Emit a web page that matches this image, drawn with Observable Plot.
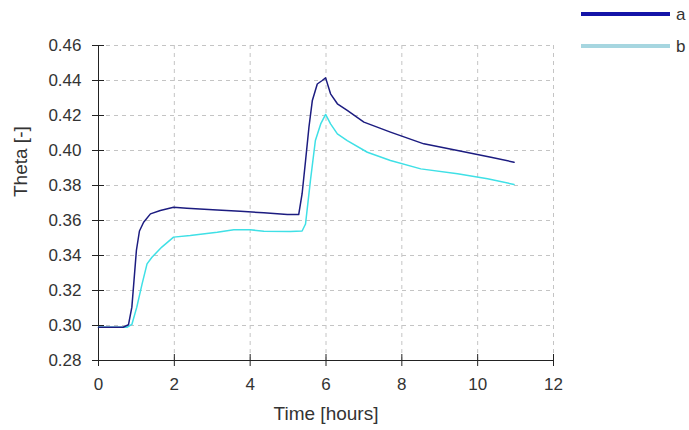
<!DOCTYPE html>
<html>
<head>
<meta charset="utf-8">
<script src="https://cdn.jsdelivr.net/npm/d3@7"></script>
<script src="https://cdn.jsdelivr.net/npm/@observablehq/plot@0.6"></script>
<style>
  body { margin: 0; background: #fff; }
  #wrap { position: relative; width: 689px; height: 430px; font-family: "Liberation Sans", Arial, sans-serif; }
  #legend { position: absolute; left: 0; top: 0; width: 689px; height: 60px; pointer-events: none; }
</style>
</head>
<body>
<div id="wrap"></div>
<script>
// Series a
const timeA = [0, 0.65, 0.79, 0.88, 0.93, 1.0, 1.08, 1.19, 1.37, 1.63, 1.98, 2.33, 3.13, 3.74, 4.36, 4.98, 5.28, 5.37, 5.46, 5.55, 5.64, 5.77, 5.90, 5.99, 6.12, 6.30, 6.56, 7.0, 7.70, 8.58, 9.47, 10.35, 10.96];
const thetaA = [0.299, 0.299, 0.3004, 0.3105, 0.324, 0.343, 0.354, 0.359, 0.3638, 0.3657, 0.3676, 0.367, 0.366, 0.3653, 0.3644, 0.3634, 0.3634, 0.3753, 0.394, 0.4133, 0.4286, 0.438, 0.44, 0.4415, 0.4324, 0.4267, 0.4229, 0.4162, 0.4105, 0.4038, 0.40, 0.3962, 0.3933];
// Series b
const timeB = [0, 0.75, 0.88, 1.01, 1.15, 1.28, 1.41, 1.67, 1.98, 2.42, 3.13, 3.57, 4.0, 4.36, 5.06, 5.37, 5.46, 5.59, 5.72, 5.86, 5.99, 6.12, 6.30, 6.56, 7.09, 7.70, 8.5, 9.47, 10.26, 10.96];
const thetaB = [0.299, 0.299, 0.3006, 0.3105, 0.3238, 0.3352, 0.339, 0.3448, 0.3505, 0.3514, 0.3533, 0.3547, 0.3547, 0.3539, 0.3537, 0.354, 0.358, 0.3829, 0.4057, 0.4152, 0.4206, 0.4152, 0.4095, 0.4057, 0.399, 0.3943, 0.3895, 0.3867, 0.3838, 0.3806];

const seriesNames = ["a", "b"];
const xTicks = [0, 2, 4, 6, 8, 10, 12];
const yTicks = [0.28, 0.30, 0.32, 0.34, 0.36, 0.38, 0.40, 0.42, 0.44, 0.46];
const xTitle = "Time [hours]";
const yTitle = "Theta [-]";

const colorA = "#1c1c80";
const colorB = "#3fe0e6";
const legendColors = ["#1414a8", "#a6d6e0"];

const rowsA = timeA.map((t, i) => ({t, v: thetaA[i]}));
const rowsB = timeB.map((t, i) => ({t, v: thetaB[i]}));

const font = "Liberation Sans, Arial, sans-serif";

const chart = Plot.plot({
  width: 689,
  height: 430,
  marginLeft: 98,
  marginRight: 136,
  marginTop: 45,
  marginBottom: 70,
  style: {fontFamily: font, fontSize: "17px", color: "#333", background: "transparent"},
  x: {domain: [0, 12]},
  y: {domain: [0.28, 0.46]},
  marks: [
    // grid
    Plot.gridX(xTicks.slice(1), {stroke: "#c4c4c4", strokeOpacity: 1, strokeDasharray: "4,4"}),
    Plot.gridY(yTicks.slice(1), {stroke: "#c4c4c4", strokeOpacity: 1, strokeDasharray: "4,4"}),
    // cross ticks
    Plot.axisX({ticks: xTicks, tickSize: 12, dy: -6, tickFormat: () => "", label: null, stroke: "#222"}),
    Plot.axisY({ticks: yTicks, tickSize: 12, dx: 6, tickFormat: () => "", label: null, stroke: "#222"}),
    // labels
    Plot.axisX({ticks: xTicks, tickSize: 0, tickPadding: 17, tickFormat: d3.format("d"), fill: "#333", label: null}),
    Plot.axisY({ticks: yTicks, tickSize: 0, tickPadding: 17, tickFormat: d3.format(".2f"), fill: "#333", label: null}),
    // axis titles
    Plot.text([xTitle], {frameAnchor: "bottom", dy: 59, fill: "#333", fontSize: 19, lineAnchor: "bottom"}),
    Plot.text([yTitle], {frameAnchor: "left", rotate: -90, dx: -78, dy: -6, fill: "#333", fontSize: 19}),
    // axis lines
    Plot.ruleX([0], {stroke: "#222"}),
    Plot.ruleY([0.28], {stroke: "#222"}),
    // series
    Plot.line(rowsB, {x: "t", y: "v", stroke: colorB, strokeWidth: 1.5}),
    Plot.line(rowsA, {x: "t", y: "v", stroke: colorA, strokeWidth: 1.5})
  ]
});

const wrap = document.getElementById("wrap");
wrap.appendChild(chart);

// legend
const ns = "http://www.w3.org/2000/svg";
const leg = document.createElementNS(ns, "svg");
leg.setAttribute("id", "legend");
leg.setAttribute("width", 689);
leg.setAttribute("height", 60);
seriesNames.forEach((name, i) => {
  const y = 14 + i * 32;
  const ln = document.createElementNS(ns, "line");
  ln.setAttribute("x1", 581); ln.setAttribute("x2", 670);
  ln.setAttribute("y1", y); ln.setAttribute("y2", y);
  ln.setAttribute("stroke", legendColors[i]);
  ln.setAttribute("stroke-width", 4);
  leg.appendChild(ln);
  const tx = document.createElementNS(ns, "text");
  tx.setAttribute("x", 676); tx.setAttribute("y", y);
  tx.setAttribute("dy", "0.35em");
  tx.setAttribute("fill", "#333");
  tx.setAttribute("font-family", font);
  tx.setAttribute("font-size", "17px");
  tx.textContent = name;
  leg.appendChild(tx);
});
wrap.appendChild(leg);
</script>
</body>
</html>
